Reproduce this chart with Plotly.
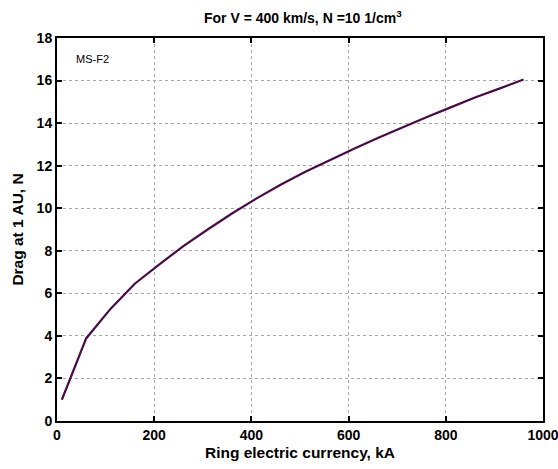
import plotly.graph_objects as go

current_kA = [10, 60, 110, 160, 210, 260, 310, 360, 410, 460, 510, 560, 610, 660, 710, 760, 810, 860, 910, 960]
drag_N = [1.0, 3.88, 5.27, 6.45, 7.35, 8.22, 9.0, 9.75, 10.45, 11.1, 11.7, 12.25, 12.78, 13.3, 13.8, 14.28, 14.74, 15.2, 15.62, 16.05]

x_ticks = [0, 200, 400, 600, 800, 1000]
x_tick_labels = ["0", "200", "400", "600", "800", "1000"]
y_ticks = [0, 2, 4, 6, 8, 10, 12, 14, 16, 18]

font_family = "Liberation Sans, Arial, sans-serif"

fig = go.Figure()
fig.add_trace(go.Scatter(x=current_kA, y=drag_N, mode="lines",
                         line=dict(color="#4a0a48", width=2.2), showlegend=False))

axis_common = dict(
    showline=True, linecolor="black", linewidth=2, mirror="ticks",
    ticks="inside", ticklen=5, tickwidth=2, tickcolor="black",
    showgrid=True, gridcolor="#a8a8a8", griddash="dot", gridwidth=1,
    zeroline=False, automargin=False, ticklabeloverflow="allow",
    tickfont=dict(family=font_family, size=14, color="black", weight="bold"),
)

fig.update_xaxes(range=[0, 1000], tickvals=x_ticks, ticktext=x_tick_labels,
                 title=dict(text="<b>Ring electric currency, kA</b>",
                            font=dict(family=font_family, size=15.5, color="black"), standoff=5),
                 **axis_common)
fig.update_yaxes(range=[0, 18], tickvals=y_ticks, ticktext=[str(v) for v in y_ticks],
                 title=dict(text="<b>Drag at 1 AU, N</b>",
                            font=dict(family=font_family, size=15.5, color="black"), standoff=9),
                 **axis_common)

fig.update_layout(
    width=558, height=469,
    margin=dict(l=57, r=15, t=38, b=48, autoexpand=False),
    paper_bgcolor="white", plot_bgcolor="white",
    title=dict(text="<b>For V = 400 km/s, N =10 1/cm<sup>3</sup></b>",
               font=dict(family=font_family, size=14, color="black"),
               x=0.5427, xanchor="center", y=0.961, yanchor="middle", automargin=False),
    annotations=[dict(text="MS-F2", x=34, y=17.0, xref="x", yref="y",
                      xanchor="left", yanchor="middle", showarrow=False,
                      font=dict(family=font_family, size=11, color="black"))],
)

fig.write_html("out.html",
               config={"displayModeBar": False},
               post_script="document.body.style.margin='0';document.documentElement.style.overflow='hidden';")
